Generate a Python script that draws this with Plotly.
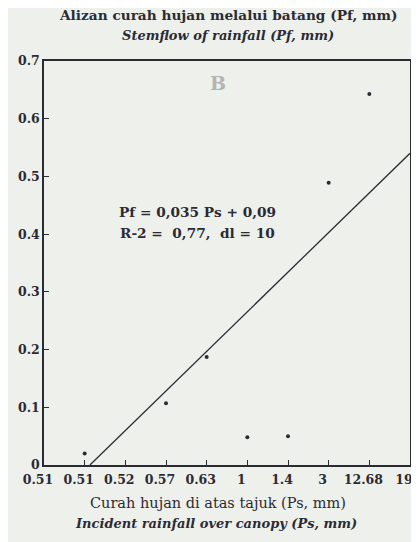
import plotly.graph_objects as go

# categories on x axis (as printed)
x_labels = ["0.51", "0.51", "0.52", "0.57", "0.63", "1", "1.4", "3", "12.68", "19"]
# stemflow values (Pf, mm) per category; None where no dot is visible
pf_values = [None, 0.02, None, 0.107, 0.187, 0.048, 0.05, 0.489, 0.643, None]
# regression line endpoints (category-position, Pf)
fit_x = [1.13, 9]
fit_y = [0.0, 0.54]
y_ticks = [0, 0.1, 0.2, 0.3, 0.4, 0.5, 0.6, 0.7]
y_ticktext = ["0", "0.1", "0.2", "0.3", "0.4", "0.5", "0.6", "0.7"]

pos = list(range(len(x_labels)))
px = [p for p, v in zip(pos, pf_values) if v is not None]
py = [v for v in pf_values if v is not None]

SERIF = "DejaVu Serif"
INK = "#2b2b33"
BG = "#eef0ec"

fig = go.Figure()
fig.add_trace(go.Scatter(x=fit_x, y=fit_y, mode="lines",
                         line=dict(color=INK, width=1.3), showlegend=False))
fig.add_trace(go.Scatter(x=px, y=py, mode="markers",
                         marker=dict(color=INK, size=4), showlegend=False))

fig.update_layout(
    width=411, height=534,
    margin=dict(l=36, r=9, t=53, b=77),
    paper_bgcolor=BG, plot_bgcolor=BG,
    font=dict(family=SERIF, color=INK),
    xaxis=dict(range=[0, 9], tickvals=pos, ticktext=x_labels, automargin=False,
               showgrid=False, zeroline=False, showline=True, mirror=True,
               linecolor=INK, linewidth=1.5, ticks="inside", ticklen=5,
               tickcolor=INK, ticklabelstandoff=2, ticklabeloverflow="allow",
               ticklabelshift=-6,
               tickfont=dict(family=SERIF, size=12.5, color=INK, weight="bold")),
    yaxis=dict(range=[0, 0.7], tickvals=y_ticks, ticktext=y_ticktext, automargin=False,
               showgrid=False, zeroline=False, showline=True, mirror=True,
               linecolor=INK, linewidth=1.5, ticks="inside", ticklen=5,
               tickcolor=INK, ticklabeloverflow="allow",
               tickfont=dict(family=SERIF, size=12.5, color=INK, weight="bold")),
)

ann = [
    dict(text="<b>Alizan curah hujan melalui batang (Pf, mm)</b>", x=0.503, y=1.114, size=13.7),
    dict(text="<b><i>Stemflow of rainfall (Pf, mm)</i></b>", x=0.503, y=1.064, size=13),
    dict(text="<b>B</b>", x=0.475, y=0.945, size=19, color="#b2b4b2"),
    dict(text="<b>Pf = 0,035 Ps + 0,09</b>", x=0.42, y=0.626, size=13.7),
    dict(text="<b>R-2 =  0,77,  dl = 10</b>", x=0.42, y=0.574, size=13.7),
    dict(text="Curah hujan di atas tajuk (Ps, mm)", x=0.475, y=-0.094, size=14.5),
    dict(text="<b><i>Incident rainfall over canopy (Ps, mm)</i></b>", x=0.47, y=-0.144, size=13),
]
for a in ann:
    fig.add_annotation(text=a["text"], x=a["x"], y=a["y"], xref="paper", yref="paper",
                       xanchor="center", yanchor="middle", showarrow=False,
                       font=dict(family=SERIF, size=a["size"], color=a.get("color", INK)))

fig.write_html("out.html")
